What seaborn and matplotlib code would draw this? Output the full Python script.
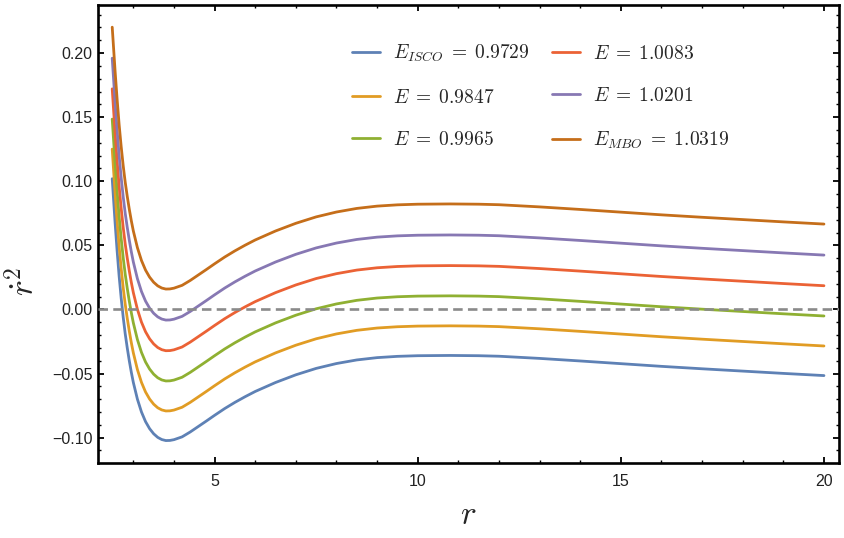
import numpy as np
import pandas as pd
import matplotlib
matplotlib.use("Agg")
import matplotlib.pyplot as plt
from matplotlib.ticker import MultipleLocator, FormatStrFormatter, FuncFormatter
import seaborn as sns

# radial coordinate
r = [2.48, 2.55, 2.6, 2.65, 2.7, 2.75, 2.8, 2.85, 2.9, 2.95, 3.0, 3.1, 3.2, 3.3,
     3.4, 3.5, 3.6, 3.7, 3.8, 3.9, 4.0, 4.2, 4.4, 4.6, 4.8, 5.0, 5.25, 5.5,
     5.75, 6.0, 6.5, 7.0, 7.5, 8.0, 8.5, 9.0, 9.5, 10.0, 10.8, 11.5, 12.0,
     13.0, 14.0, 15.0, 16.0, 17.0, 18.0, 19.0, 20.0]

# rdot^2 for every energy
rdot2_isco = [0.1020, 0.0680, 0.0460, 0.0260, 0.0090, -0.0060, -0.0190, -0.0300,
              -0.0400, -0.0490, -0.0570, -0.0700, -0.0800, -0.0875, -0.0930,
              -0.0970, -0.0998, -0.1015, -0.1023, -0.1022, -0.1016, -0.0994,
              -0.0956, -0.0913, -0.0870, -0.0826, -0.0773, -0.0725, -0.0681,
              -0.0640, -0.0570, -0.0510, -0.0460, -0.0422, -0.0394, -0.0376,
              -0.0366, -0.0361, -0.0359, -0.0361, -0.0365, -0.0382, -0.0402,
              -0.0423, -0.0444, -0.0463, -0.0481, -0.0499, -0.0516]
rdot2_e2 = [0.1251, 0.0911, 0.0691, 0.0491, 0.0321, 0.0171, 0.0041, -0.0069,
            -0.0169, -0.0259, -0.0339, -0.0469, -0.0569, -0.0644, -0.0699,
            -0.0739, -0.0767, -0.0784, -0.0792, -0.0791, -0.0785, -0.0763,
            -0.0725, -0.0682, -0.0639, -0.0595, -0.0542, -0.0494, -0.0450,
            -0.0409, -0.0339, -0.0279, -0.0229, -0.0191, -0.0163, -0.0145,
            -0.0135, -0.0130, -0.0128, -0.0130, -0.0134, -0.0151, -0.0171,
            -0.0192, -0.0213, -0.0232, -0.0250, -0.0268, -0.0285]
rdot2_e3 = [0.1485, 0.1145, 0.0925, 0.0725, 0.0555, 0.0405, 0.0275, 0.0165,
            0.0065, -0.0025, -0.0105, -0.0235, -0.0335, -0.0410, -0.0465,
            -0.0505, -0.0533, -0.0550, -0.0558, -0.0557, -0.0551, -0.0529,
            -0.0491, -0.0448, -0.0405, -0.0361, -0.0308, -0.0260, -0.0216,
            -0.0175, -0.0105, -0.0045, 0.0005, 0.0043, 0.0071, 0.0089,
            0.0099, 0.0104, 0.0106, 0.0104, 0.0100, 0.0083, 0.0063,
            0.0042, 0.0021, 0.0002, -0.0016, -0.0034, -0.0051]
rdot2_e4 = [0.1721, 0.1381, 0.1161, 0.0961, 0.0791, 0.0641, 0.0511, 0.0401,
            0.0301, 0.0211, 0.0131, 0.0001, -0.0099, -0.0174, -0.0229,
            -0.0269, -0.0297, -0.0314, -0.0322, -0.0321, -0.0315, -0.0293,
            -0.0255, -0.0212, -0.0169, -0.0125, -0.0072, -0.0024, 0.0020,
            0.0061, 0.0131, 0.0191, 0.0241, 0.0279, 0.0307, 0.0325,
            0.0335, 0.0340, 0.0342, 0.0340, 0.0336, 0.0319, 0.0299,
            0.0278, 0.0257, 0.0238, 0.0220, 0.0202, 0.0185]
rdot2_e5 = [0.1960, 0.1620, 0.1400, 0.1200, 0.1030, 0.0880, 0.0750, 0.0640,
            0.0540, 0.0450, 0.0370, 0.0240, 0.0140, 0.0065, 0.0010,
            -0.0030, -0.0058, -0.0075, -0.0083, -0.0082, -0.0076, -0.0054,
            -0.0016, 0.0027, 0.0070, 0.0114, 0.0167, 0.0215, 0.0259,
            0.0300, 0.0370, 0.0430, 0.0480, 0.0518, 0.0546, 0.0564,
            0.0574, 0.0579, 0.0581, 0.0579, 0.0575, 0.0558, 0.0538,
            0.0517, 0.0496, 0.0477, 0.0459, 0.0441, 0.0424]
rdot2_mbo = [0.2202, 0.1862, 0.1642, 0.1442, 0.1272, 0.1122, 0.0992, 0.0882,
             0.0782, 0.0692, 0.0612, 0.0482, 0.0382, 0.0307, 0.0252,
             0.0212, 0.0184, 0.0167, 0.0159, 0.0160, 0.0166, 0.0188,
             0.0226, 0.0269, 0.0312, 0.0356, 0.0409, 0.0457, 0.0501,
             0.0542, 0.0612, 0.0672, 0.0722, 0.0760, 0.0788, 0.0806,
             0.0816, 0.0821, 0.0823, 0.0821, 0.0817, 0.0800, 0.0780,
             0.0759, 0.0738, 0.0719, 0.0701, 0.0683, 0.0666]

energy_labels = [r"$E_{ISCO}\;=\;0.9729$", r"$E\;=\;0.9847$", r"$E\;=\;0.9965$",
                 r"$E\;=\;1.0083$", r"$E\;=\;1.0201$", r"$E_{MBO}\;=\;1.0319$"]
colors = ["#5E81B5", "#E19C24", "#8FB032", "#EB6235", "#8778B3", "#C56E1A"]

series = [rdot2_isco, rdot2_e2, rdot2_e3, rdot2_e4, rdot2_e5, rdot2_mbo]

sns.set_style("ticks")
plt.rcParams["font.family"] = ["Liberation Sans", "DejaVu Sans"]
plt.rcParams["mathtext.fontset"] = "cm"

frames = []
for lab, vals in zip(energy_labels, series):
    frames.append(pd.DataFrame({"r": r, "rdot2": vals, "E": lab}))
df = pd.concat(frames, ignore_index=True)

fig = plt.figure(figsize=(8.45, 5.38), dpi=100)
ax = fig.add_axes([98 / 845, 1 - 463 / 538, 741 / 845, 458 / 538])

sns.lineplot(data=df, x="r", y="rdot2", hue="E", hue_order=energy_labels,
             palette=colors, linewidth=2.0, sort=False, estimator=None, ax=ax)
ax.axhline(0, color="#8a8a8a", lw=1.9, ls=(0, (3.6, 2.0)), zorder=5)

ax.set_xlim(2.13, 20.37)
ax.set_ylim(-0.1198, 0.2375)
ax.set_xticks([5, 10, 15, 20])
ax.set_yticks([-0.10, -0.05, 0.0, 0.05, 0.10, 0.15, 0.20])
ax.xaxis.set_minor_locator(MultipleLocator(1))
ax.yaxis.set_minor_locator(MultipleLocator(0.01))
ax.xaxis.set_major_formatter(FormatStrFormatter("%d"))
ax.yaxis.set_major_formatter(FuncFormatter(lambda v, p: f"{v:.2f}".replace("-", "\u2212")))

ax.tick_params(which="both", direction="in", top=True, right=True, color="black")
ax.tick_params(which="major", length=4, width=1.3, labelsize=11.5, labelcolor="#222222")
ax.tick_params(which="minor", length=2.5, width=1.0)
ax.tick_params(axis="x", which="major", pad=8)
ax.tick_params(axis="y", which="major", pad=4)

for s in ax.spines.values():
    s.set_linewidth(1.9)
    s.set_color("black")

ax.set_xlabel(r"$r$", fontsize=24, va="center")
ax.xaxis.set_label_coords(0.5, (463 - 515) / 458)
ax.set_ylabel(r"$\dot{r}^2$", fontsize=24, va="center", ha="center")
ax.yaxis.set_label_coords((24 - 98) / 741, (463 - 281) / 458)

sns.move_legend(ax, "upper left", bbox_to_anchor=((352 - 98) / 741, (463 - 43) / 458),
                ncol=2, frameon=False, title=None, fontsize=14,
                handlelength=1.45, handletextpad=0.65, columnspacing=1.15,
                labelspacing=1.25, borderpad=0, borderaxespad=0)

# mirrored ticks on top/right are light gray like Mathematica frames
fig.canvas.draw()
for axis in (ax.xaxis, ax.yaxis):
    for t in axis.get_major_ticks() + axis.get_minor_ticks():
        t.tick2line.set_color("#aaaaaa")

fig.savefig("out.png", dpi=100)
